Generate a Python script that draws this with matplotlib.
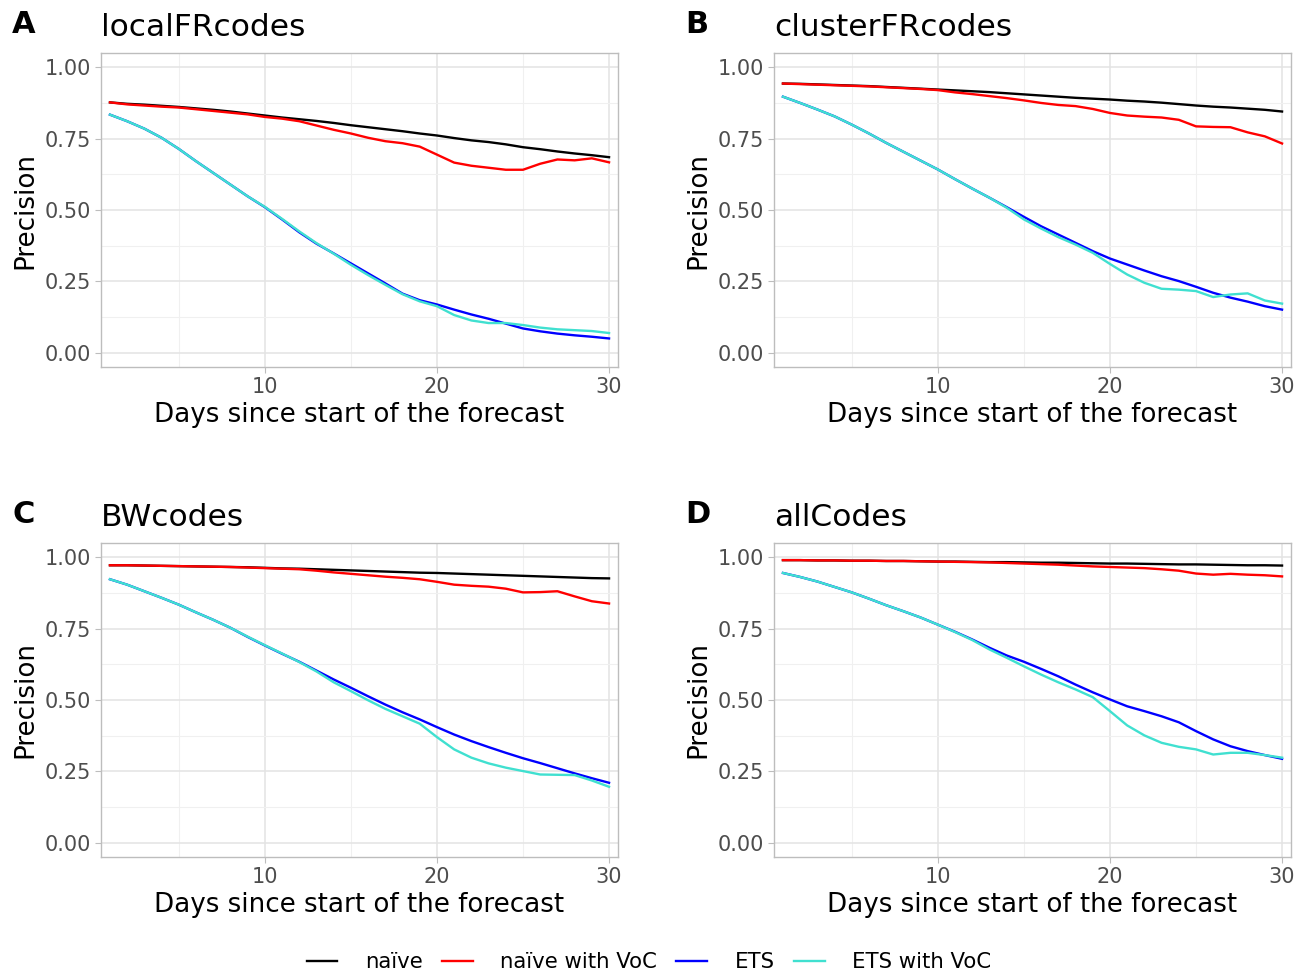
import numpy as np
import matplotlib
matplotlib.use("Agg")
import matplotlib.pyplot as plt
from matplotlib.ticker import MultipleLocator

days = list(range(1, 31))
series_names = ["naïve", "naïve with VoC", "ETS", "ETS with VoC"]
panel_letters = ["A", "B", "C", "D"]
panel_titles = ["localFRcodes", "clusterFRcodes", "BWcodes", "allCodes"]

# localFRcodes
A_naive = [.877, .872, .869, .865, .861, .856, .851, .845, .838, .831, .824, .818, .812, .805, .797,
           .790, .783, .776, .768, .761, .752, .744, .738, .730, .720, .713, .705, .698, .692, .685]
A_naive_voc = [.877, .870, .866, .862, .859, .853, .847, .841, .835, .826, .820, .811, .796, .781, .768,
               .753, .741, .734, .722, .694, .666, .655, .648, .641, .641, .662, .677, .674, .681, .667]
A_ets = [.834, .811, .785, .753, .714, .671, .630, .589, .548, .510, .467, .422, .382, .348, .313,
         .278, .243, .207, .184, .169, .151, .134, .119, .102, .085, .075, .067, .061, .056, .050]
A_ets_voc = [.834, .811, .785, .753, .714, .671, .630, .589, .548, .511, .469, .425, .384, .347, .308,
             .272, .238, .205, .180, .163, .132, .113, .104, .104, .097, .088, .082, .079, .076, .069]

# clusterFRcodes
B_naive = [.943, .942, .940, .938, .936, .934, .931, .928, .925, .922, .919, .916, .913, .909, .905,
           .901, .897, .893, .890, .887, .883, .880, .876, .871, .866, .862, .859, .855, .851, .845]
B_naive_voc = [.943, .941, .939, .937, .935, .933, .930, .927, .924, .920, .912, .906, .899, .892, .884,
               .875, .868, .864, .854, .840, .831, .827, .824, .816, .793, .791, .790, .772, .758, .733]
B_ets = [.897, .875, .852, .828, .799, .768, .735, .704, .673, .642, .608, .575, .543, .510, .476,
         .443, .414, .385, .356, .330, .309, .288, .268, .251, .231, .210, .193, .179, .163, .151]
B_ets_voc = [.897, .875, .852, .828, .799, .768, .735, .704, .673, .642, .608, .575, .543, .508, .467,
             .435, .405, .379, .350, .311, .274, .245, .224, .221, .216, .195, .204, .208, .183, .172]

# BWcodes
C_naive = [.972, .972, .971, .970, .969, .968, .967, .966, .965, .963, .961, .960, .958, .956, .954,
           .952, .950, .948, .946, .945, .943, .941, .939, .937, .935, .933, .931, .929, .927, .926]
C_naive_voc = [.972, .972, .971, .970, .969, .968, .967, .966, .964, .962, .960, .958, .953, .947, .942,
               .937, .932, .928, .923, .914, .904, .900, .897, .890, .877, .878, .881, .863, .846, .838]
C_ets = [.923, .904, .881, .858, .834, .807, .781, .753, .721, .691, .662, .634, .603, .572, .543,
         .513, .484, .457, .432, .405, .379, .356, .335, .315, .296, .279, .261, .243, .226, .210]
C_ets_voc = [.923, .904, .881, .858, .834, .807, .781, .753, .722, .692, .663, .633, .600, .562, .531,
             .499, .469, .443, .417, .370, .327, .298, .278, .263, .251, .239, .238, .237, .218, .196]

# allCodes
D_naive = [.990, .990, .989, .989, .988, .988, .987, .987, .986, .985, .985, .984, .983, .983, .982,
           .981, .981, .980, .979, .978, .978, .977, .976, .975, .975, .974, .973, .972, .972, .971]
D_naive_voc = [.990, .990, .989, .989, .988, .988, .987, .987, .986, .985, .984, .983, .982, .980, .978,
               .976, .974, .971, .968, .966, .964, .962, .958, .953, .943, .939, .942, .939, .937, .933]
D_ets = [.945, .931, .915, .896, .877, .855, .832, .811, .789, .764, .739, .712, .683, .656, .634,
         .609, .583, .554, .527, .502, .478, .461, .443, .422, .391, .362, .338, .321, .307, .294]
D_ets_voc = [.945, .931, .915, .896, .877, .855, .832, .811, .789, .764, .738, .710, .677, .648, .618,
             .589, .562, .537, .510, .461, .411, .376, .350, .336, .327, .309, .315, .315, .307, .298]

panels = [
    [A_naive, A_naive_voc, A_ets, A_ets_voc],
    [B_naive, B_naive_voc, B_ets, B_ets_voc],
    [C_naive, C_naive_voc, C_ets, C_ets_voc],
    [D_naive, D_naive_voc, D_ets, D_ets_voc],
]
colors = ["black", "red", "blue", "#40E0D0"]

W, H = 1309, 973
fig = plt.figure(figsize=(W / 100, H / 100), dpi=100)

# axes boxes in pixels: left, top, right, bottom
boxes = [(101, 53, 618, 367), (774, 53, 1291, 367),
         (101, 543, 618, 857), (774, 543, 1291, 857)]

grid_col = "#E3E3E3"
border_col = "#BDBDBD"
tick_col = "#4D4D4D"

for i, (l, t, r, b) in enumerate(boxes):
    ax = fig.add_axes([l / W, 1 - b / H, (r - l) / W, (b - t) / H])
    for j, vals in enumerate(panels[i]):
        ax.plot(days, vals, color=colors[j], lw=1.7, label=series_names[j])

    ax.set_xlim(0.48, 30.52)
    ax.set_ylim(-0.05, 1.05)
    ax.xaxis.set_major_locator(MultipleLocator(10))
    ax.xaxis.set_minor_locator(MultipleLocator(5))
    ax.set_yticks([0, 0.25, 0.5, 0.75, 1.0])
    ax.set_yticklabels(["0.00", "0.25", "0.50", "0.75", "1.00"])
    ax.yaxis.set_minor_locator(MultipleLocator(0.125))
    ax.grid(which="major", color=grid_col, lw=1.1)
    ax.grid(which="minor", color="#F0F0F0", lw=0.8)
    ax.set_axisbelow(True)
    for s in ax.spines.values():
        s.set_color(border_col)
        s.set_linewidth(1.0)
    ax.tick_params(which="major", length=4, color=border_col, labelcolor=tick_col,
                   labelsize=15, pad=3)
    ax.tick_params(which="minor", length=0)

    ax.set_xlabel("Days since start of the forecast", fontsize=18.8, labelpad=4)
    ax.set_ylabel("Precision", fontsize=18.8, labelpad=5)
    ax.set_title(panel_titles[i], loc="left", fontsize=22.5, pad=12)
    fig.text((l - 89) / W, 1 - (t - 20) / H, panel_letters[i], fontsize=22,
             fontweight="bold", ha="left", va="baseline")

handles, labels = ax.get_legend_handles_labels()
fig.legend(handles, labels, loc="center", bbox_to_anchor=(649 / W, 1 - 962 / H),
           ncol=4, frameon=False, fontsize=15.3, handlelength=1.45,
           handletextpad=1.3, columnspacing=0.9)

fig.savefig("out.png", dpi=100)
